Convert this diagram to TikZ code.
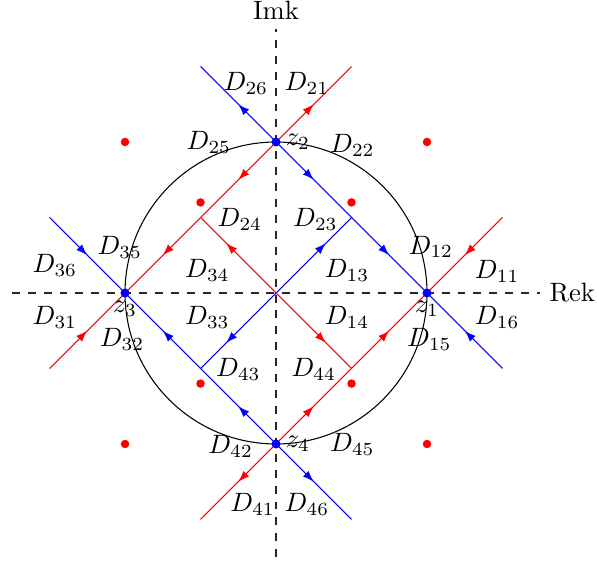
\documentclass[tikz,border=0pt]{standalone}
\usetikzlibrary{decorations.markings,arrows.meta}
\tikzset{
  arrowat/.style={postaction={decorate,decoration={markings,mark=at position #1 with {\arrow{Latex[length=4.2pt,width=3pt]}}}}},
  bseg/.style={blue, arrowat=0.5},
  rseg/.style={red, arrowat=0.5},
  bin/.style={blue, arrowat=0.66},
  rin/.style={red, arrowat=0.66},
  zdot/.style={circle, fill=blue, inner sep=0pt, minimum size=3.4pt},
  rdot/.style={circle, fill=red, inner sep=0pt, minimum size=3.2pt},
  lab/.style={inner sep=0pt},
}
\begin{document}
\begin{tikzpicture}[x=1cm,y=1cm]
\useasboundingbox (-3.656,-3.576) rectangle (4.252,3.881);
% axes
\coordinate (xl) at (-3.5,0);
\coordinate (xr) at (3.5,0);
\coordinate (yb) at (0,-3.5);
\coordinate (yt) at (0,3.5);
\draw[dashed, black!85] (xl) -- (xr);
\draw[dashed, black!85] (yb) -- (yt);
\node[right] (rek) at (xr) {Rek};
\node[above] (imk) at (yt) {Imk};
% circle
\draw (0,0) circle (2);
% points
\coordinate (O) at (0,0);
\coordinate (z1) at (2,0);
\coordinate (z2) at (0,2);
\coordinate (z3) at (-2,0);
\coordinate (z4) at (0,-2);
\coordinate (c1) at (1,1);
\coordinate (c2) at (-1,1);
\coordinate (c3) at (-1,-1);
\coordinate (c4) at (1,-1);
\coordinate (e21) at (1,3);
\coordinate (e26) at (-1,3);
\coordinate (e11) at (3,1);
\coordinate (e16) at (3,-1);
\coordinate (e36) at (-3,1);
\coordinate (e31) at (-3,-1);
\coordinate (e41) at (-1,-3);
\coordinate (e46) at (1,-3);
% blue segments
\draw[bseg] (z2) -- (e26);
\draw[bseg] (z2) -- (c1);
\draw[bseg] (c1) -- (z1);
\draw[bseg] (e16) -- (z1);
\draw[bseg] (e36) -- (z3);
\draw[bseg] (c3) -- (z3);
\draw[bseg] (z4) -- (c3);
\draw[bseg] (z4) -- (e46);
\draw[bin] (O) -- (c1);
\draw[bin] (O) -- (c3);
% red segments
\draw[rseg] (z2) -- (e21);
\draw[rseg] (z2) -- (c2);
\draw[rseg] (c2) -- (z3);
\draw[rseg] (e31) -- (z3);
\draw[rseg] (e11) -- (z1);
\draw[rseg] (c4) -- (z1);
\draw[rseg] (z4) -- (c4);
\draw[rseg] (z4) -- (e41);
\draw[rin] (O) -- (c2);
\draw[rin] (O) -- (c4);
% dots
\node[zdot] (p1) at (z1) {};
\node[zdot] (p2) at (z2) {};
\node[zdot] (p3) at (z3) {};
\node[zdot] (p4) at (z4) {};
\node[rdot] (r1) at (2,2) {};
\node[rdot] (r2) at (-2,2) {};
\node[rdot] (r3) at (-2,-2) {};
\node[rdot] (r4) at (2,-2) {};
\node[rdot] (r5) at (1,1.2) {};
\node[rdot] (r6) at (-1,1.2) {};
\node[rdot] (r7) at (-1,-1.2) {};
\node[rdot] (r8) at (1,-1.2) {};
% z labels
\node[lab] (lz1) at (2.0,-0.21) {$z_1$};
\node[lab] (lz2) at (0.29,2.0) {$z_2$};
\node[lab] (lz3) at (-2.0,-0.21) {$z_3$};
\node[lab] (lz4) at (0.29,-2.0) {$z_4$};
% D labels
\node[lab] (d11) at (2.93,0.28) {$D_{11}$};
\node[lab] (d12) at (2.05,0.61) {$D_{12}$};
\node[lab] (d13) at (0.94,0.30) {$D_{13}$};
\node[lab] (d14) at (0.94,-0.33) {$D_{14}$};
\node[lab] (d15) at (2.03,-0.62) {$D_{15}$};
\node[lab] (d16) at (2.93,-0.33) {$D_{16}$};
\node[lab] (d21) at (0.41,2.78) {$D_{21}$};
\node[lab] (d22) at (1.01,1.96) {$D_{22}$};
\node[lab] (d23) at (0.52,0.97) {$D_{23}$};
\node[lab] (d24) at (-0.48,0.97) {$D_{24}$};
\node[lab] (d25) at (-0.89,1.99) {$D_{25}$};
\node[lab] (d26) at (-0.40,2.78) {$D_{26}$};
\node[lab] (d31) at (-2.93,-0.32) {$D_{31}$};
\node[lab] (d32) at (-2.04,-0.62) {$D_{32}$};
\node[lab] (d33) at (-0.91,-0.33) {$D_{33}$};
\node[lab] (d34) at (-0.91,0.30) {$D_{34}$};
\node[lab] (d35) at (-2.07,0.60) {$D_{35}$};
\node[lab] (d36) at (-2.93,0.37) {$D_{36}$};
\node[lab] (d41) at (-0.31,-2.80) {$D_{41}$};
\node[lab] (d42) at (-0.60,-2.03) {$D_{42}$};
\node[lab] (d43) at (-0.50,-1.01) {$D_{43}$};
\node[lab] (d44) at (0.50,-1.01) {$D_{44}$};
\node[lab] (d45) at (1.01,-2.01) {$D_{45}$};
\node[lab] (d46) at (0.41,-2.80) {$D_{46}$};
\end{tikzpicture}
\end{document}
